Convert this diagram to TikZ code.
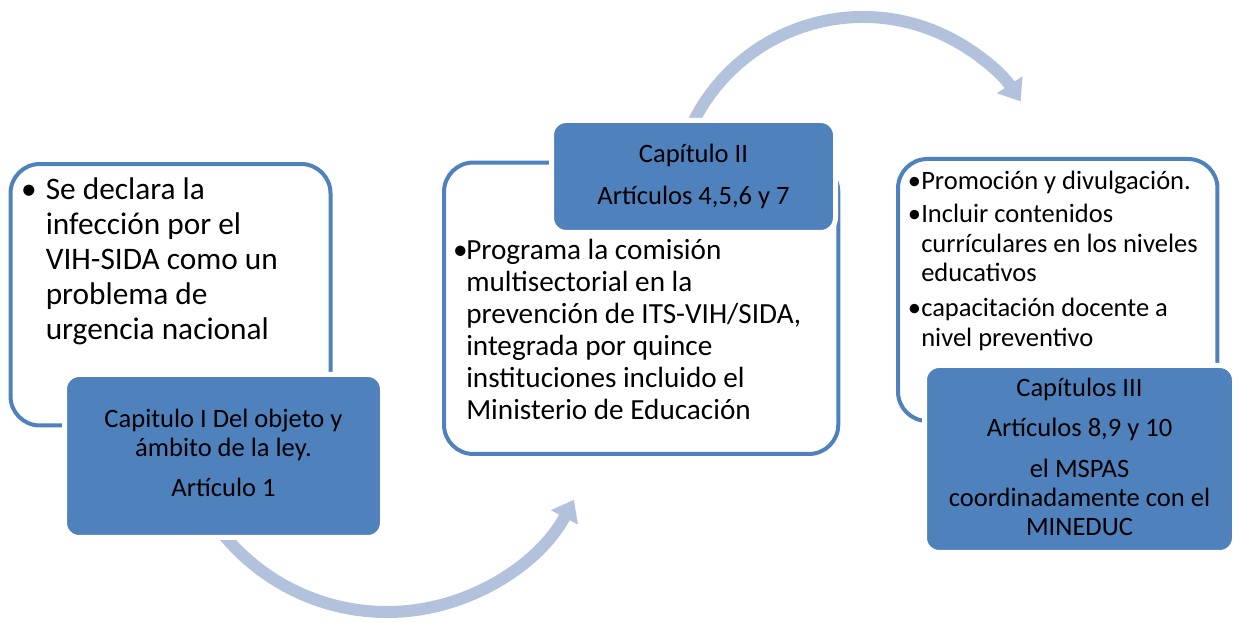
\documentclass[tikz,border=0pt]{standalone}
\usepackage{fontspec}
\setmainfont{Carlito}
\usetikzlibrary{arrows.meta,calc}
\definecolor{boxblue}{HTML}{4F81BD}
\definecolor{arrowblue}{HTML}{B2C2DD}
\begin{document}
\begin{tikzpicture}[x=0.75pt,y=-0.75pt,
  outlinebox/.style={draw=boxblue, line width=3pt, rounded corners=22pt, fill=white, inner sep=0pt},
  chapbox/.style={fill=boxblue, draw=white, line width=3.75pt, rounded corners=11pt, inner sep=0pt},
  bigarrow/.style={draw=arrowblue, line width=9pt, -{Triangle[width=22pt,length=15pt]}},
  bodytext/.style={anchor=base west, inner sep=0pt, text width=290pt, align=flush left},
  chaptext/.style={anchor=base, inner sep=0pt, text width=225pt, align=flush center, font=\fontsize{19.9pt}{21.75pt}\selectfont},
  bulletmark/.style={anchor=base, inner sep=0pt}
]
\useasboundingbox (0,0) rectangle (1233,623);

% curved arrows
\coordinate (c1) at (387,400.4);
\coordinate (c2) at (863,206.6);
\draw[bigarrow] ($(c1)+(141:211.6)$) coordinate (a1s) arc[start angle=141, end angle=28, radius=211.6];
\draw[bigarrow] ($(c2)+(-154:189.6)$) coordinate (a2s) arc[start angle=-154, end angle=-33.7, radius=189.6];

% white outlined boxes
\node[outlinebox, minimum width=240pt, minimum height=196.1pt] (box1) at (170.5,294.75) {};
\node[outlinebox, minimum width=295.7pt, minimum height=218.6pt] (box2) at (641.15,308.25) {};
\node[outlinebox, minimum width=239.6pt, minimum height=196.5pt] (box3) at (1057.75,290) {};

% blue chapter boxes
\node[chapbox, minimum width=238.5pt, minimum height=122.25pt] (cap1) at (223.5,456) {};
\node[chapbox, minimum width=213pt, minimum height=84pt] (cap2) at (693.5,176.5) {};
\node[chapbox, minimum width=232.5pt, minimum height=140.25pt] (cap3) at (1079.5,459) {};

% box 1 text
\node[bulletmark, font=\fontsize{23.5pt}{26.25pt}\selectfont] (b1) at (29,200) {•};
\node[bodytext, font=\fontsize{23.5pt}{26.25pt}\selectfont] (t1) at (45.5,200)
  {Se declara la\\infección por el\\VIH-SIDA como un\\problema de\\urgencia nacional};

% box 2 text
\node[bulletmark, font=\fontsize{21.9pt}{24pt}\selectfont] (b2) at (460.3,260) {•};
\node[bodytext, font=\fontsize{21.9pt}{24pt}\selectfont] (t2) at (466,260)
  {Programa la comisión\\multisectorial en la\\prevención de ITS-VIH/SIDA,\\integrada por quince\\instituciones incluido el\\Ministerio de Educación};

% box 3 text
\node[bulletmark, font=\fontsize{19.9pt}{22.1pt}\selectfont] (b3a) at (914.5,190) {•};
\node[bodytext, font=\fontsize{19.9pt}{22.1pt}\selectfont] (t3a) at (921,190) {Promoción y divulgación.};
\node[bulletmark, font=\fontsize{19.9pt}{22.1pt}\selectfont] (b3b) at (914.5,223) {•};
\node[bodytext, font=\fontsize{19.9pt}{22.1pt}\selectfont] (t3b) at (921,223) {Incluir contenidos\\currículares en los niveles\\educativos};
\node[bulletmark, font=\fontsize{19.9pt}{22.1pt}\selectfont] (b3c) at (914.5,317) {•};
\node[bodytext, font=\fontsize{19.9pt}{22.1pt}\selectfont] (t3c) at (921,317) {capacitación docente a\\nivel preventivo};

% chapter texts
\node[chaptext] (ct1) at (223.5,428) {Capitulo I Del objeto y\\ámbito de la ley.\\[8.25pt]Artículo 1};
\node[chaptext] (ct2) at (693.5,163) {Capítulo II\\[9.75pt]Artículos 4,5,6 y 7};
\node[chaptext] (ct3) at (1079.5,397) {Capítulos III\\[8.25pt]Artículos 8,9 y 10\\[9pt]el MSPAS\\coordinadamente con el\\MINEDUC};
\end{tikzpicture}
\end{document}
